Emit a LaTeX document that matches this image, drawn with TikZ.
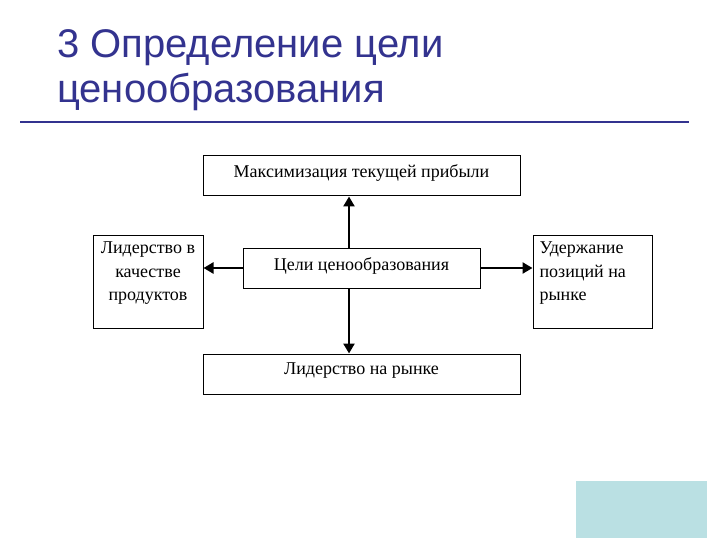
\documentclass[tikz,border=0pt]{standalone}
\usepackage{fontspec}
\setmainfont{Liberation Serif}
\newfontfamily\titlefont{Liberation Sans}
\usetikzlibrary{arrows.meta}
\definecolor{ttblue}{RGB}{51, 51, 143}
\definecolor{ttcyan}{RGB}{186, 224, 227}

\begin{document}
\begin{tikzpicture}[x=1pt,y=-1pt,
    box/.style={draw,line width=1pt,inner sep=0pt,font=\fontsize{18}{21}\selectfont},
    link/.style={line width=2.6pt,-{Triangle[length=10pt,width=11pt]}}]
\useasboundingbox (0,0) rectangle (720,540);

% Title
\node[anchor=base west,inner sep=0pt,text=ttblue,font=\titlefont\fontsize{40}{46}\selectfont] (title1) at (57,58) {3 Определение цели};
\node[anchor=base west,inner sep=0pt,text=ttblue,font=\titlefont\fontsize{40}{46}\selectfont] (title2) at (57,103) {ценообразования};
\draw[ttblue,line width=2pt] (20,122) -- (689,122);

% Boxes
\node[box,minimum width=317pt,minimum height=40pt] (top) at (361.5,176) {};
\node[font=\fontsize{18}{21}\selectfont] (toptxt) at (361.5,173) {Максимизация текущей прибыли};
\node[box,minimum width=237pt,minimum height=40pt] (goal) at (361.5,268) {};
\node[font=\fontsize{18}{21}\selectfont] (goaltxt) at (361.5,266) {Цели ценообразования};
\node[box,minimum width=317pt,minimum height=40pt] (bottom) at (361.5,374) {};
\node[font=\fontsize{18}{21}\selectfont] (bottomtxt) at (361.5,371) {Лидерство на рынке};
\node[box,minimum width=110pt,minimum height=93pt] (left) at (148,281.5) {};
\node[anchor=north,align=center,font=\fontsize{18}{23.5}\selectfont] (lefttxt) at (148,238.5) {Лидерство в\\качестве\\продуктов};
\node[box,minimum width=119pt,minimum height=93pt] (right) at (592.5,281.5) {};
\node[anchor=north west,align=left,font=\fontsize{18}{23.5}\selectfont] (righttxt) at (536,238.5) {Удержание\\позиций на\\рынке};

% Arrows
\coordinate (mid) at (349,268);
\draw[link] (mid |- goal.north) -- (mid |- top.south);
\draw[link] (mid |- goal.south) -- (mid |- bottom.north);
\draw[link] (goal.west) -- (goal.west -| left.east);
\draw[link] (goal.east) -- (goal.east -| right.west);

% Corner panel
\fill[ttcyan] (576,481) rectangle (707,538);
\end{tikzpicture}
\end{document}
